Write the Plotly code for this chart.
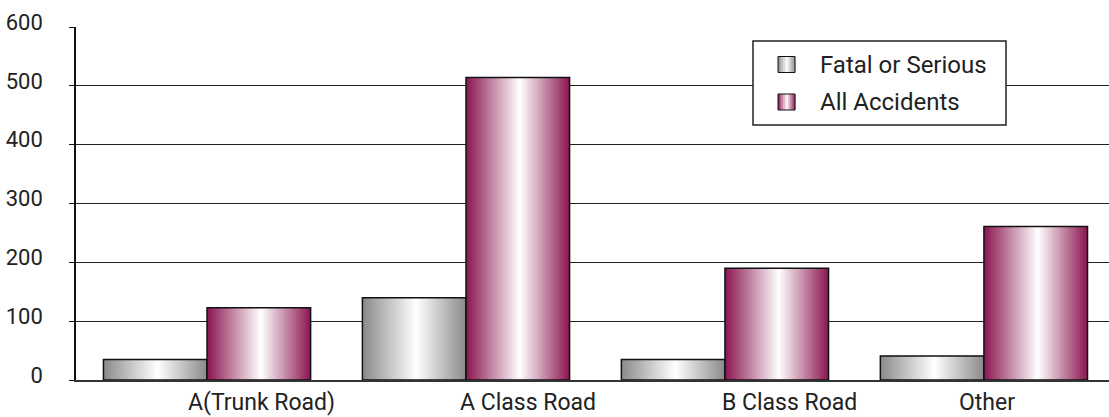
import plotly.graph_objects as go

# Road accident counts by road class
categories = ["A(Trunk Road)", "A Class Road", "B Class Road", "Other"]
fatal_serious = [35, 140, 35, 41]
all_accidents = [123, 514, 190, 261]
y_ticks = [0, 100, 200, 300, 400, 500, 600]
series_names = ["Fatal or Serious", "All Accidents"]

# Cylinder-style shading: edge colour -> white highlight -> edge colour
GRAY_EDGE = (138, 138, 138)
MAROON_EDGE = (138, 22, 80)
HIGHLIGHT_POS = 0.52
N_SLICES = 70
BAR_W = 0.4


def shade(edge, t):
    if t <= HIGHLIGHT_POS:
        f = t / HIGHLIGHT_POS
    else:
        f = (1 - t) / (1 - HIGHLIGHT_POS)
    r, g, b = (round(c + (255 - c) * f) for c in edge)
    return f"rgb({r},{g},{b})"


fig = go.Figure()

for values, edge, start in [(fatal_serious, GRAY_EDGE, -BAR_W), (all_accidents, MAROON_EDGE, 0.0)]:
    sw = BAR_W / N_SLICES
    for k in range(N_SLICES):
        t = (k + 0.5) / N_SLICES
        fig.add_trace(go.Bar(
            x=categories, y=values,
            width=min(sw * 2, BAR_W - k * sw), offset=start + k * sw,
            marker=dict(color=shade(edge, t), line=dict(width=0)),
            showlegend=False, hoverinfo="skip",
        ))
    # outline of the whole bar
    fig.add_trace(go.Bar(
        x=categories, y=values, width=BAR_W, offset=start,
        marker=dict(color="rgba(0,0,0,0)", line=dict(color="#111", width=1.5)),
        showlegend=False,
    ))

FONT = "Roboto, Arial, sans-serif"
TEXT_COLOR = "#222"

# category labels under the axis
label_shift = [0.21, 0.24, 0.25, 0.01]
annotations = []
for i, (name, s) in enumerate(zip(categories, label_shift)):
    annotations.append(dict(
        x=i + s, y=0, xref="x", yref="paper", text=name, showarrow=False,
        xanchor="center", yanchor="top", yshift=-7,
        font=dict(family=FONT, size=23, color=TEXT_COLOR),
    ))

# hand-built legend box
PL, PR, PT, PB = 76, 1109, 27, 380


def px(x):
    return (x - PL) / (PR - PL)


def py(y):
    return (PB - y) / (PB - PT)


shapes = [dict(type="rect", xref="paper", yref="paper",
               x0=px(753), x1=px(1006), y0=py(125), y1=py(41),
               line=dict(color="#222", width=1.5), fillcolor="white", layer="above")]
for name, edge, cy in [(series_names[0], GRAY_EDGE, 64.5), (series_names[1], MAROON_EDGE, 102)]:
    n = 10
    x0, x1 = 778, 795
    for k in range(n):
        a = x0 + (x1 - x0) * k / n
        b = x0 + (x1 - x0) * (k + 1) / n
        shapes.append(dict(type="rect", xref="paper", yref="paper",
                           x0=px(a), x1=px(b + 0.3), y0=py(cy + 8), y1=py(cy - 8),
                           line=dict(width=0), fillcolor=shade(edge, (k + 0.5) / n), layer="above"))
    shapes.append(dict(type="rect", xref="paper", yref="paper",
                       x0=px(x0), x1=px(x1), y0=py(cy + 8), y1=py(cy - 8),
                       line=dict(color="#111", width=1), fillcolor="rgba(0,0,0,0)", layer="above"))
    annotations.append(dict(x=px(818), y=py(cy), xref="paper", yref="paper", text=name,
                            showarrow=False, xanchor="left", yanchor="middle",
                            font=dict(family=FONT, size=24, color=TEXT_COLOR)))

fig.update_layout(
    width=1109, height=417,
    margin=dict(l=PL, r=0, t=PT, b=417 - PB),
    paper_bgcolor="white", plot_bgcolor="white",
    barmode="overlay",
    showlegend=False,
    font=dict(family=FONT, size=22, color=TEXT_COLOR),
    xaxis=dict(type="category", range=[-0.506, 3.483], showticklabels=False,
               ticks="", showgrid=False, showline=True, linecolor="#333", linewidth=2,
               zeroline=False),
    yaxis=dict(range=[0, 600], tickvals=y_ticks, showgrid=True, gridcolor="#222",
               gridwidth=1.3, showline=True, linecolor="#111", linewidth=1.5,
               ticks="outside", ticklen=5, tickcolor="#111", tickwidth=1.3,
               ticklabelstandoff=22, ticklabelshift=-5, zeroline=False,
               tickfont=dict(family=FONT, size=22, color=TEXT_COLOR)),
    shapes=shapes,
    annotations=annotations,
)

fig.write_html("out.html")
